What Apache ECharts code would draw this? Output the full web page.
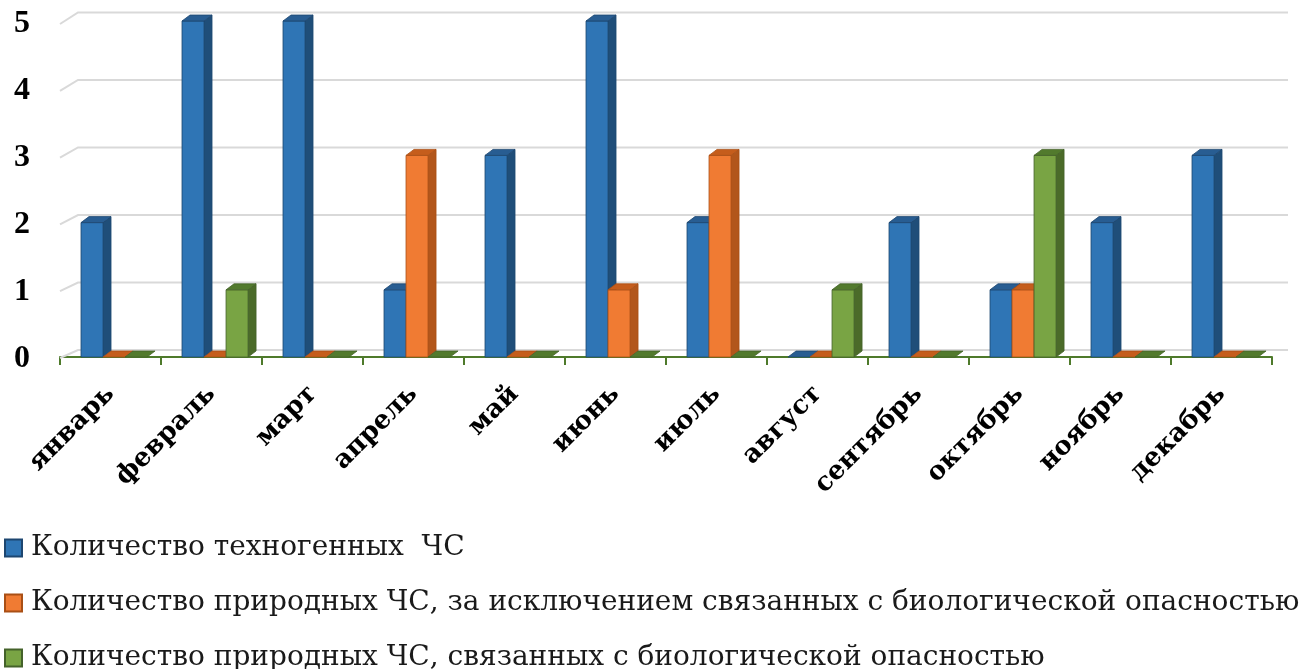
<!DOCTYPE html>
<html>
<head>
<meta charset="utf-8">
<script src="https://cdn.jsdelivr.net/npm/echarts@6/dist/echarts.min.js"></script>
<style>
html,body{margin:0;padding:0;background:#fff;}
#chart{width:1314px;height:669px;}
</style>
</head>
<body>
<div id="chart"></div>
<script>
var months = ['январь','февраль','март','апрель','май','июнь','июль','август','сентябрь','октябрь','ноябрь','декабрь'];
var seriesNames = [
  'Количество техногенных  ЧС',
  'Количество природных ЧС, за исключением связанных с биологической опасностью',
  'Количество природных ЧС, связанных с биологической опасностью'
];
var techValues = [2, 5, 5, 1, 3, 5, 2, 0, 2, 1, 2, 3];
var naturalValues = [0, 0, 0, 3, 0, 1, 3, 0, 0, 1, 0, 0];
var bioValues = [0, 1, 0, 0, 0, 0, 0, 1, 0, 3, 0, 0];
var yTicks = [0, 1, 2, 3, 4, 5];

var palette = [
  {front:'#2f75b5', side:'#1f4e79', top:'#285d92', edge:'#1d4670'},
  {front:'#f07b33', side:'#b2561b', top:'#c55d1c', edge:'#a94f15'},
  {front:'#79a444', side:'#4b6b29', top:'#527a2d', edge:'#44622a'}
];

var DX = 8, DY = 6;

function barRenderer(si){
  return function(params, api){
    var idx = api.value(0);
    var val = api.value(1);
    var top = api.coord([idx, val]);
    var base = api.coord([idx, 0]);
    var band = api.size([1, 0])[0];
    var w = band * 0.218;
    var left = base[0] - band * 0.292 + si * w;
    var right = left + w;
    var yt = top[1], yb = base[1];
    var c = palette[si];
    var children = [];
    if (yb - yt > 0.5) {
      children.push({type:'polygon', shape:{points:[[right,yt],[right+DX,yt-DY],[right+DX,yb-DY],[right,yb]]},
        style:{fill:c.side, stroke:c.edge, lineWidth:0.8}});
      children.push({type:'rect', shape:{x:left, y:yt, width:w, height:yb-yt},
        style:{fill:c.front, stroke:c.edge, lineWidth:0.8}});
    }
    children.push({type:'polygon', shape:{points:[[left,yt],[left+DX,yt-DY],[right+DX,yt-DY],[right,yt]]},
      style:{fill:c.top, stroke:c.edge, lineWidth:0.8}});
    return {type:'group', children:children};
  };
}

function wallRenderer(params, api){
  var v = api.value(1);
  var p = api.coord([0, v]);
  var cs = params.coordSys;
  var x0 = cs.x;
  var x1 = cs.x + cs.width + 16;
  var yf = p[1] + 1 + 0.4 * v;
  var ybk = p[1] - 7 - 0.3 * v;
  return {type:'polyline', shape:{points:[[x0, yf],[x0+18, ybk],[x1, ybk]]},
    style:{stroke:'#d9d9d9', lineWidth:2, fill:null}};
}

var chart = echarts.init(document.getElementById('chart'));
var series = [{
  type:'custom', name:'wall', coordinateSystem:'cartesian2d', z:1, silent:true,
  renderItem: wallRenderer,
  data: yTicks.map(function(v){ return [0, v]; })
}];
[techValues, naturalValues, bioValues].forEach(function(arr, si){
  series.push({
    type:'custom', name:seriesNames[si], coordinateSystem:'cartesian2d', z:2 + si,
    renderItem: barRenderer(si),
    itemStyle:{color:palette[si].front, borderColor:palette[si].edge, borderWidth:2},
    data: arr.map(function(v, i){ return [i, v]; })
  });
});

chart.setOption({
  animation:false,
  backgroundColor:'#fff',
  grid:[
    {left:60, right:42, top:21, bottom:312, containLabel:false},
    {left:60, right:42, top:24, bottom:310, containLabel:false}
  ],
  xAxis:[{
    type:'category', data:months, offset:3, gridIndex:0,
    axisLine:{show:true, lineStyle:{color:'#4e7a2b', width:2}},
    axisTick:{show:true, length:8, lineStyle:{color:'#4e7a2b', width:2}},
    axisLabel:{rotate:45, margin:30, fontFamily:'DejaVu Serif', fontWeight:'bold', fontSize:26, color:'#000', interval:0},
    splitLine:{show:false}
  },{
    type:'category', data:months, gridIndex:1, show:false
  }],
  yAxis:[{
    type:'value', min:0, max:5, interval:1, gridIndex:0,
    axisLine:{show:false}, axisTick:{show:false}, splitLine:{show:false}, axisLabel:{show:false}
  },{
    type:'value', min:0, max:5, interval:1, gridIndex:1,
    axisLine:{show:false}, axisTick:{show:false}, splitLine:{show:false},
    axisLabel:{margin:30, fontFamily:'Liberation Serif', fontWeight:'bold', fontSize:32, color:'#000'}
  }],
  legend:{
    orient:'vertical', left:4, top:534, height:160, padding:0, itemWidth:17, itemHeight:17, itemGap:27,
    icon:'rect',
    data: seriesNames,
    textStyle:{fontFamily:'DejaVu Serif', fontSize:28, color:'#1a1a1a', lineHeight:24, padding:[0,0,0,4]}
  },
  series: series
});
</script>
</body>
</html>
